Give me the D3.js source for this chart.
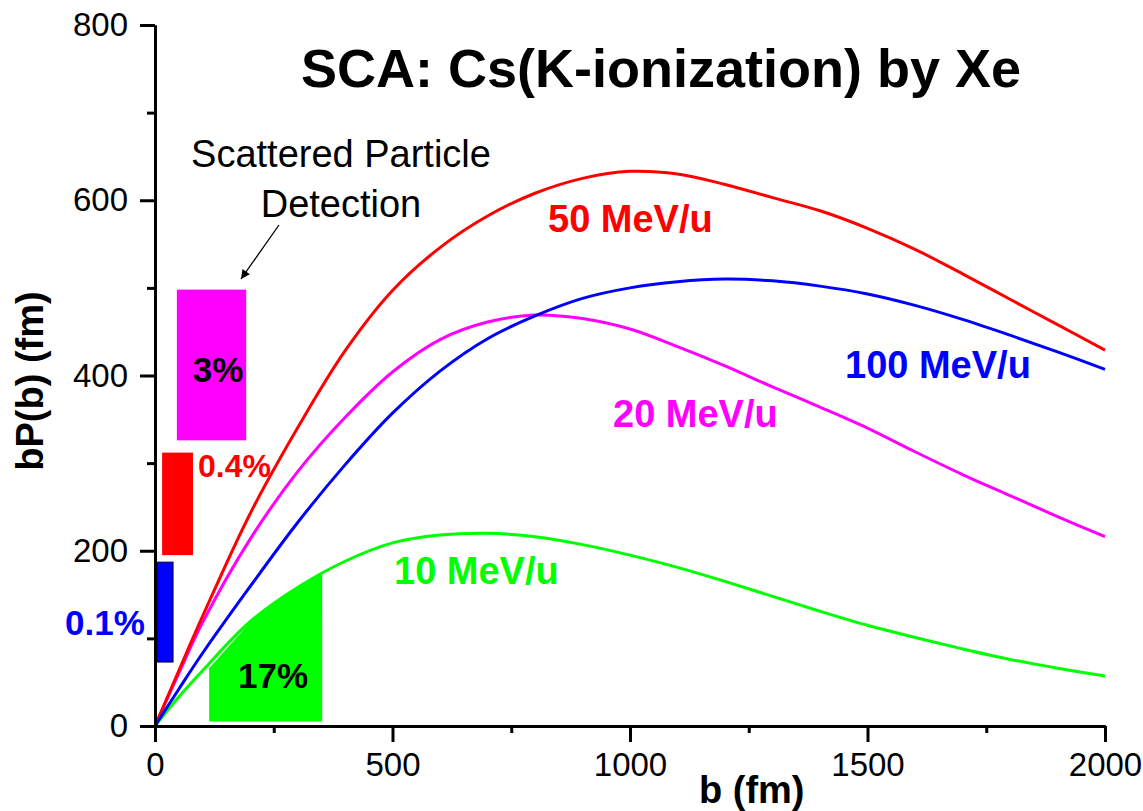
<!DOCTYPE html>
<html lang="en">
<head>
    <meta charset="utf-8">
    <title>SCA: Cs(K-ionization) by Xe</title>
    <script type="text/javascript" src="https://d3js.org/d3.v7.min.js"></script>
    <style type="text/css">
        body { margin: 0; background: #fff; }
        svg { font-family: "Liberation Sans", Arial, sans-serif; }
    </style>
</head>
<body>
<script type="text/javascript">

    // impact parameter grid (fm)
    var bGrid = [0, 50, 100, 200, 300, 400, 500, 600, 700, 800, 900, 1000,
                 1100, 1200, 1300, 1400, 1500, 1600, 1700, 1800, 1900, 2000];

    // bP(b) in fm
    var mev10  = [0, 33, 63, 119, 158, 188, 209, 218, 220, 216, 207, 195,
                  181, 165, 148, 131, 115, 101, 88, 76, 66, 57];
    var mev20  = [0, 60, 118, 213, 290, 352, 404, 441, 461, 469, 465, 453,
                  433, 411, 387, 364, 340, 313, 287, 263, 239, 216];
    var mev50  = [0, 63, 125, 242, 340, 428, 497, 546, 582, 608, 625, 633,
                  630, 618, 603, 588, 568, 544, 516, 487, 458, 429];
    var mev100 = [0, 42, 83, 159, 232, 298, 357, 405, 442, 468, 488, 500,
                  507, 510, 508, 502, 493, 480, 464, 446, 427, 407];

    var seriesNames  = ["10 MeV/u", "20 MeV/u", "50 MeV/u", "100 MeV/u"];
    var seriesColors = ["#00ff00", "#ff00ff", "#ff0000", "#0000ff"];

    // shaded region under the 10 MeV/u curve (17%)
    var shadeB = [114, 200, 250, 300, 352];
    var shadeV = [66, 118, 140, 158, 174];
    var shadeFloor = 5;

    // scattered particle detection windows
    var winLabels = ["3%", "0.4%", "0.1%"];
    var winB0 = [46, 15, 4];
    var winB1 = [192, 80, 38];
    var winV0 = [326, 195, 73];
    var winV1 = [498, 312, 187];
    var winColors = ["#ff00ff", "#ff0000", "#0000ff"];

    var yTicks = [0, 200, 400, 600, 800];
    var yMinor = [100, 300, 500, 700];
    var xTicks = [0, 500, 1000, 1500, 2000];
    var xMinor = [250, 750, 1250, 1750];

    var width = 1143, height = 811;

    var svg = d3.select("body")
        .append("svg")
        .attr("width", width)
        .attr("height", height);

    var x = d3.scaleLinear().domain([0, 2000]).range([155, 1105]);
    var y = d3.scaleLinear().domain([0, 800]).range([726, 25]);

    // shaded area + windows go under the curves
    var shade = shadeB.map(function(b, i) { return [b, shadeV[i]]; });
    svg.append("path")
        .datum(shade)
        .attr("fill", "#00ff00")
        .attr("d", d3.area()
            .x(function(d) { return x(d[0]); })
            .y0(y(shadeFloor))
            .y1(function(d) { return y(d[1]); }));

    svg.selectAll(".win")
        .data(winLabels)
        .enter()
        .append("rect")
        .attr("class", "win")
        .attr("x", function(d, i) { return x(winB0[i]); })
        .attr("width", function(d, i) { return x(winB1[i]) - x(winB0[i]); })
        .attr("y", function(d, i) { return y(winV1[i]); })
        .attr("height", function(d, i) { return y(winV0[i]) - y(winV1[i]); })
        .attr("fill", function(d, i) { return winColors[i]; })
        .attr("stroke", function(d, i) { return i == 2 ? "#000033" : "none"; })
        .attr("stroke-width", 1);

    // curves
    var allSeries = [mev10, mev20, mev50, mev100];
    var line = d3.line()
        .x(function(d) { return x(d[0]); })
        .y(function(d) { return y(d[1]); })
        .curve(d3.curveCatmullRom);

    allSeries.forEach(function(vals, k) {
        var pts = bGrid.map(function(b, i) { return [b, vals[i]]; });
        svg.append("path")
            .datum(pts)
            .attr("fill", "none")
            .attr("stroke", seriesColors[k])
            .attr("stroke-width", 3)
            .attr("d", line);
    });

    // axes
    function styleAxis(g) {
        g.selectAll("path, line").attr("stroke", "#000").attr("stroke-width", 3);
        g.selectAll("text").attr("fill", "#000")
            .style("font-family", "'Liberation Sans', Arial, sans-serif")
            .style("font-size", "33px");
    }

    svg.append("g")
        .attr("transform", "translate(155,0)")
        .call(d3.axisLeft(y).tickValues(yMinor).tickSize(8).tickSizeOuter(0).tickFormat(""))
        .call(styleAxis);
    svg.append("g")
        .attr("transform", "translate(155,0)")
        .call(d3.axisLeft(y).tickValues(yTicks).tickSize(15).tickSizeOuter(0)
            .tickPadding(12).tickFormat(d3.format("d")))
        .call(styleAxis);

    svg.append("g")
        .attr("transform", "translate(0,726)")
        .call(d3.axisBottom(x).tickValues(xMinor).tickSize(7).tickSizeOuter(0).tickFormat(""))
        .call(styleAxis);
    svg.append("g")
        .attr("transform", "translate(0,726)")
        .call(d3.axisBottom(x).tickValues(xTicks).tickSize(16).tickSizeOuter(0)
            .tickPadding(11).tickFormat(d3.format("d")))
        .call(styleAxis);

    // axis titles
    svg.append("text")
        .attr("transform", "translate(43,381) rotate(-90)")
        .attr("text-anchor", "middle")
        .style("font-weight", "bold")
        .style("font-size", "38px")
        .text("bP(b) (fm)");

    svg.append("text")
        .attr("x", 699)
        .attr("y", 803)
        .style("font-weight", "bold")
        .style("font-size", "38px")
        .text("b (fm)");

    // title
    svg.append("text")
        .attr("x", 661)
        .attr("y", 87)
        .attr("text-anchor", "middle")
        .style("font-weight", "bold")
        .style("font-size", "54px")
        .text("SCA: Cs(K-ionization) by Xe");

    // curve labels
    var labelPos = [[394, 584], [613, 427], [548, 232], [845, 378]];
    seriesNames.forEach(function(name, k) {
        svg.append("text")
            .attr("x", labelPos[k][0])
            .attr("y", labelPos[k][1])
            .attr("fill", seriesColors[k])
            .style("font-weight", "bold")
            .style("font-size", "38px")
            .text(name);
    });

    // window labels
    svg.append("text").attr("x", 218).attr("y", 382).attr("text-anchor", "middle")
        .style("font-weight", "bold").style("font-size", "35px").text(winLabels[0]);
    svg.append("text").attr("x", 198).attr("y", 477).attr("fill", winColors[1])
        .style("font-weight", "bold").style("font-size", "32px").text(winLabels[1]);
    svg.append("text").attr("x", 65).attr("y", 635).attr("fill", winColors[2])
        .style("font-weight", "bold").style("font-size", "35px").text(winLabels[2]);
    svg.append("text").attr("x", 238).attr("y", 688)
        .style("font-weight", "bold").style("font-size", "35px").text("17%");

    // detection note + arrow
    svg.append("text").attr("x", 341).attr("y", 167).attr("text-anchor", "middle")
        .style("font-size", "38px").text("Scattered Particle");
    svg.append("text").attr("x", 341).attr("y", 217).attr("text-anchor", "middle")
        .style("font-size", "38px").text("Detection");

    svg.append("defs").append("marker")
        .attr("id", "head")
        .attr("viewBox", "0 0 10 10")
        .attr("refX", 10).attr("refY", 5)
        .attr("markerWidth", 11).attr("markerHeight", 9)
        .attr("markerUnits", "userSpaceOnUse")
        .attr("orient", "auto")
        .append("path")
        .attr("d", "M0,0L10,5L0,10Z")
        .attr("fill", "#000");

    svg.append("line")
        .attr("x1", 279).attr("y1", 225)
        .attr("x2", 241).attr("y2", 279)
        .attr("stroke", "#000")
        .attr("stroke-width", 1.3)
        .attr("marker-end", "url(#head)");

</script>
</body>
</html>
